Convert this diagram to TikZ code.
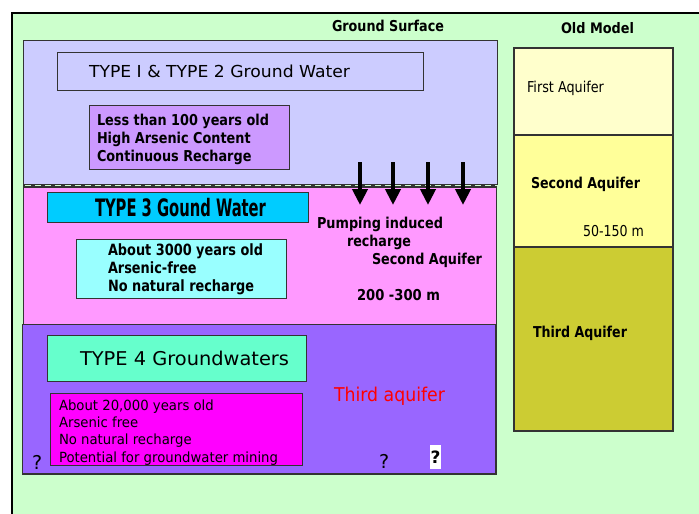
\documentclass[tikz,border=0pt]{standalone}
\usepackage{fontspec}
\setmainfont{DejaVu Sans}
\usetikzlibrary{arrows.meta}
\newcommand\fitw[2]{\resizebox{#1pt}{\height}{#2}}
\newcommand\fs[2]{\fontsize{#1}{#2}\selectfont}
\definecolor{bgc}{HTML}{CCFFCC}
\definecolor{lav}{HTML}{CCCCFF}
\definecolor{pinkc}{HTML}{FF99FF}
\definecolor{purp}{HTML}{9966FF}
\definecolor{lilac}{HTML}{CC99FF}
\definecolor{skyc}{HTML}{00CCFF}
\definecolor{cyanl}{HTML}{99FFFF}
\definecolor{mint}{HTML}{66FFCC}
\definecolor{magc}{HTML}{FF00FF}
\definecolor{aq1}{HTML}{FFFFCC}
\definecolor{aq2}{HTML}{FFFF99}
\definecolor{aq3}{HTML}{CCCC33}
\definecolor{edge}{HTML}{333333}
\begin{document}
\begin{tikzpicture}[x=1pt,y=-1pt,
  box/.style={draw=edge, line width=0.9pt},
  oldbox/.style={draw=edge, line width=1.3pt},
  txt/.style={anchor=base west, inner sep=0pt, outer sep=0pt},
  pump/.style={line width=4pt, -{Triangle[width=15pt,length=16pt]}}]
\useasboundingbox (0,0) rectangle (699,514);
% background
\fill[bgc] (12,13) rectangle (700,515);
\draw[black, line width=1.2pt] (12,515) -- (12,13) -- (700,13);
% layers
\draw[box, fill=lav] (23,40) rectangle (497,184);
\draw[box, fill=pinkc] (23,187.5) rectangle (496,324);
\draw[box, fill=purp] (22,324) rectangle (496,474);
\draw[edge, line width=1.6pt] (22,474) -- (496,474) -- (496,324);
\draw[edge, line width=3.5pt] (23,185.7) -- (497,185.7);
\draw[bgc, line width=1.3pt, dash pattern=on 6pt off 4pt] (25,185.7) -- (497,185.7);
% boxes
\draw[box, fill=lav] (57,52) rectangle (423,90);
\draw[box, fill=lilac] (89,105) rectangle (289,169);
\draw[box, fill=skyc] (47,192) rectangle (308,222);
\draw[box, fill=cyanl] (76,239) rectangle (286,298);
\draw[box, fill=mint] (47,335) rectangle (306,381);
\fill[magc] (50,393) rectangle (302,465);
% old model
\draw[oldbox, fill=aq1] (514,48) rectangle (673,135);
\draw[oldbox, fill=aq2] (514,135) rectangle (673,247);
\draw[oldbox, fill=aq3] (514,247) rectangle (673,431);
% arrows
\coordinate (a1s) at (360,162); \coordinate (a1e) at (360,205);
\coordinate (a2s) at (393,162); \coordinate (a2e) at (393,205);
\coordinate (a3s) at (428,162); \coordinate (a3e) at (428,205);
\coordinate (a4s) at (463,162); \coordinate (a4e) at (463,205);
\draw[pump] (a1s) -- (a1e);
\draw[pump] (a2s) -- (a2e);
\draw[pump] (a3s) -- (a3e);
\draw[pump] (a4s) -- (a4e);
% texts
\node[txt] (gs) at (332,31) {\fitw{112}{\fs{15}{18}\bfseries Ground Surface}};
\node[txt] (om) at (561,33) {\fitw{73}{\fs{14.5}{18}\bfseries Old Model}};
\node[txt] (t12) at (89,77) {\fitw{261}{\fs{16.5}{20}TYPE I \& TYPE 2 Ground Water}};
\node[txt] (l12) at (97,125) {\fitw{172}{\fs{15}{18}\bfseries\begin{tabular}[t]{@{}l@{}}Less than 100 years old\\High Arsenic Content\\Continuous Recharge\end{tabular}}};
\node[txt] (t3) at (95,216) {\fitw{171}{\fs{24}{28}\bfseries TYPE 3 Gound Water}};
\node[txt] (l3) at (108,255) {\fitw{155}{\fs{15.5}{18}\bfseries\begin{tabular}[t]{@{}l@{}}About 3000 years old\\Arsenic-free\\No natural recharge\end{tabular}}};
\node[txt] (t4) at (80,365) {\fitw{209}{\fs{19}{22}TYPE 4 Groundwaters}};
\begin{scope}
\clip (50,393) rectangle (302,465);
\node[txt] (l4) at (59,410) {\fitw{219}{\fs{14}{17.4}\begin{tabular}[t]{@{}l@{}}About 20,000 years old\\Arsenic free\\No natural recharge\\Potential for groundwater mining\end{tabular}}};
\end{scope}
\draw[box] (50,393) rectangle (302,465);
\node[txt] (pi) at (317,228) {\fitw{126}{\fs{15}{18}\bfseries Pumping induced}};
\node[txt] (rc) at (347,246) {\fitw{64}{\fs{15}{18}\bfseries recharge}};
\node[txt] (sa) at (372,264) {\fitw{110}{\fs{15}{18}\bfseries Second Aquifer}};
\node[txt] (dp) at (357,300) {\fitw{83}{\fs{15}{18}\bfseries 200 -300 m}};
\node[txt, text=red] (ta) at (334,401) {\fitw{111}{\fs{19}{22}Third aquifer}};
\node[txt] (q1) at (32,469) {\fs{19}{22}?};
\node[txt] (q2) at (379,468) {\fs{19}{22}?};
\node[fill=white, inner sep=0pt, minimum width=11pt, minimum height=24pt] (q3) at (435.5,457) {\fs{17}{20}\bfseries ?};
\node[txt] (fa) at (527,92) {\fitw{77}{\fs{15}{18}First Aquifer}};
\node[txt] (sa2) at (531,188) {\fitw{109}{\fs{15}{18}\bfseries Second Aquifer}};
\node[txt] (dp2) at (583,236) {\fitw{61}{\fs{15}{18}50-150 m}};
\node[txt] (ta2) at (533,337) {\fitw{94}{\fs{15}{18}\bfseries Third Aquifer}};
\end{tikzpicture}
\end{document}
